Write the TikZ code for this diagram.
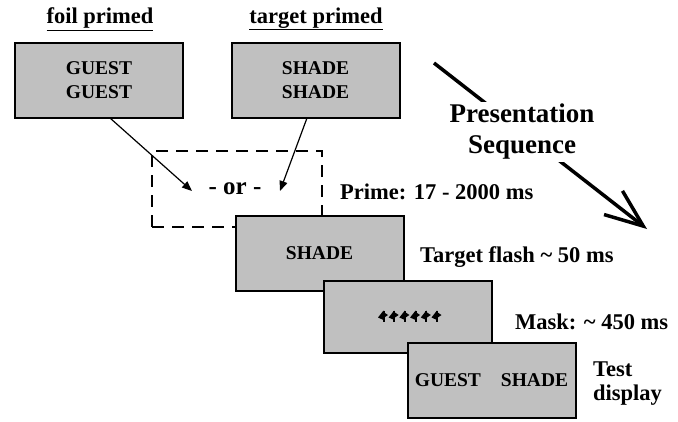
\documentclass[tikz,border=0pt]{standalone}
\usepackage{fontspec}
\setmainfont{Liberation Serif}
\usetikzlibrary{arrows.meta}
\definecolor{boxgray}{RGB}{192,192,192}
\begin{document}
\begin{tikzpicture}[x=1pt,y=-1pt,
  box/.style={draw=black, line width=2pt, fill=boxgray, minimum width=168pt, minimum height=75pt, inner sep=0pt, align=center, font=\fontsize{19.5}{24}\bfseries\selectfont},
  lbl/.style={inner sep=0pt, font=\fontsize{22.5}{24}\bfseries\selectfont},
  dbox/.style={draw=black, line width=2.5pt, dash pattern=on 12pt off 8pt, minimum width=170pt, minimum height=76pt, inner sep=0pt},
  thin/.style={line width=1.2pt, -{Triangle[length=10pt,width=8pt]}},
  big/.style={line width=3.5pt, -{Straight Barb[length=38pt,width=30pt,line width=3.5pt]}}
]
\useasboundingbox (0,0) rectangle (678,421);

% headings
\node[lbl] (foil) at (100,19) {\underline{foil primed}};
\node[lbl] (targ) at (316,19) {\underline{target primed}};

% prime choice boxes
\node[box] (b1) at (99,80.5) {GUEST\\GUEST};
\node[box] (b2) at (315.5,80.5) {SHADE\\SHADE};

% dashed "or" box
\node[dbox] (orbox) at (237,189) {};
\node[lbl, font=\fontsize{25}{28}\bfseries\selectfont] (ortext) at (235,189) {- or -};

% arrows into the or box
\coordinate (a1s) at (110,118);
\coordinate (a1e) at (192,191);
\coordinate (a2s) at (307,118);
\coordinate (a2e) at (280,191);
\draw[thin] (a1s) -- (a1e);
\draw[thin] (a2s) -- (a2e);

% sequence boxes
\node[box] (flash) at (319.5,253.5) {SHADE};
\node[box, minimum height=72pt] (mask) at (408,317) {};
\foreach \i in {0,...,5}{
  \pgfmathsetmacro{\xx}{378+\i*10.7}
  \fill (\xx,317.5) -- (\xx+5.5,310.5) -- (\xx+5.5,320) -- cycle;
  \draw[line width=2pt] (\xx+5.5,310.5) -- (\xx+5.5,322);
  \fill (\xx+5.5,312) -- (\xx+10,315) -- (\xx+5.5,318) -- cycle;
}
\node[box] (test) at (491.5,380.5) {GUEST\hspace{20pt}SHADE};

% timing labels
\node[lbl, anchor=west] (lprime) at (340,192) {Prime: 17 - 2000 ms};
\node[lbl, anchor=west] (lflash) at (420,257) {Target flash \textasciitilde{} 50 ms};
\node[lbl, anchor=west] (lmask) at (515,322) {Mask: \textasciitilde{} 450 ms};
\node[lbl, anchor=west, align=left, font=\fontsize{22.5}{24}\bfseries\selectfont] (ltest) at (593,384) {Test\\display};

% presentation sequence arrow
\coordinate (ps0) at (434,63);
\coordinate (ps1) at (647,229);
\draw[big] (ps0) -- (ps1);
\node[fill=white, inner sep=2pt, align=center, font=\fontsize{27}{31}\bfseries\selectfont] (pres) at (522,132) {Presentation\\Sequence};
\end{tikzpicture}
\end{document}
